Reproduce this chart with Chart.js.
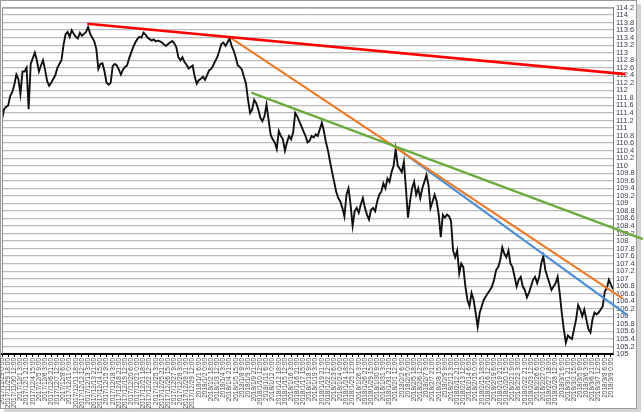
<!DOCTYPE html>
<html>
<head>
<meta charset="utf-8">
<script src="https://cdn.jsdelivr.net/npm/chart.js@4"></script>
<style>
  body { margin: 0; background: #fff; }
  #wrap { width: 644px; height: 413px; position: relative; }
</style>
</head>
<body>
<div id="wrap"><canvas id="chart"></canvas></div>
<script>
// USD/JPY, 6-hour samples (2017/11/29 - 2018/3/9 6:00)
const price = [
  111.23, 111.5, 111.56, 111.6, 111.85, 111.95, 112.15, 112.42, 112.3, 111.9,
  112.5, 112.5, 112.6, 111.5, 112.7, 112.85, 113.0, 112.8, 112.5, 112.66,
  112.8, 112.55, 112.25, 112.12, 112.2, 112.3, 112.4, 112.6, 112.7, 112.8,
  113.2, 113.49, 113.55, 113.42, 113.6, 113.5, 113.42, 113.38, 113.53, 113.45,
  113.5, 113.55, 113.68, 113.5, 113.4, 113.3, 113.1, 112.57, 112.7, 112.72,
  112.5, 112.2, 112.15, 112.2, 112.65, 112.7, 112.66, 112.55, 112.42, 112.55,
  112.62, 112.66, 112.85, 113.0, 113.15, 113.27, 113.36, 113.42, 113.4, 113.53,
  113.48, 113.4, 113.36, 113.32, 113.35, 113.3, 113.32, 113.3, 113.27, 113.22,
  113.18, 113.23, 113.27, 113.31, 113.25, 113.15, 112.88, 112.8, 112.88, 112.75,
  112.68, 112.58, 112.62, 112.66, 112.36, 112.18, 112.27, 112.31, 112.36, 112.28,
  112.4, 112.53, 112.57, 112.66, 112.78, 112.88, 113.05, 113.23, 113.27, 113.18,
  113.27, 113.38, 113.18, 113.05, 112.88, 112.66, 112.62, 112.55, 112.36, 112.18,
  111.75, 111.4, 111.49, 111.75, 111.66, 111.49, 111.27, 111.18, 111.31, 111.62,
  111.23, 110.83, 110.7, 110.62, 110.44, 110.92, 110.79, 110.7, 110.4, 110.62,
  110.79, 110.7, 110.88, 111.4, 111.31, 111.18, 111.05, 110.92, 110.79, 110.62,
  110.66, 110.79, 110.75, 110.83, 110.79, 110.97, 111.14, 110.92, 110.62, 110.4,
  110.1, 109.83, 109.57, 109.31, 109.14, 109.05, 108.88, 108.65, 109.23, 109.4,
  108.97, 108.4, 108.79, 108.88, 108.75, 108.97, 109.14, 108.88, 108.7, 108.57,
  108.83, 108.88, 108.79, 109.05, 109.23, 109.31, 109.53, 109.4, 109.66, 109.57,
  109.83, 110.0, 110.44, 110.0, 109.92, 109.83, 110.1, 109.4, 108.62, 109.05,
  109.4, 109.57, 109.23, 109.4, 109.14, 109.4, 109.57, 109.75, 109.49, 108.88,
  109.05, 109.23, 109.05, 108.7, 108.1, 108.7, 108.62, 108.7, 108.66, 108.53,
  107.75, 107.57, 107.75, 107.14, 107.4, 107.31, 106.79, 106.44, 106.27, 106.62,
  106.44, 106.1, 105.72, 106.1, 106.27, 106.44, 106.53, 106.62, 106.7, 106.79,
  106.97, 107.23, 107.31, 107.49, 107.83, 107.66, 107.57, 107.75, 107.4, 107.31,
  107.05, 106.79, 106.97, 107.05, 106.79, 106.7, 106.5, 106.62, 106.79, 106.97,
  107.05, 106.88, 107.05, 107.4, 107.6, 107.23, 107.05, 106.88, 106.7, 106.79,
  106.88, 107.05, 106.62, 106.1, 105.66, 105.3, 105.49, 105.44, 105.4, 105.66,
  105.92, 106.3, 106.18, 106.0, 106.18, 105.92, 105.66, 105.57, 105.92, 106.1,
  106.05, 106.1, 106.18, 106.27, 106.66, 106.75, 106.97, 106.84, 106.72
];

// trend lines: [start sample, start price, end sample, end price]
const redLine    = [41.6, 113.77, 304, 112.43];
const orangeLine = [111.4, 113.4, 302.8, 106.47];
const blueLine   = [192.8, 110.46, 305, 106.03];
const greenLine  = [121.6, 111.94, 312.6, 108.05];

const yMin = 105, yMax = 114.2, yStep = 0.2;
const labelEvery = 3; // one category label per 18 hours

// weekday calendar for the time labels
const days = [];
for (let d = new Date(2017, 10, 29); d <= new Date(2018, 2, 9); d.setDate(d.getDate() + 1)) {
  if (d.getDay() !== 0 && d.getDay() !== 6) days.push(new Date(d));
}
const totalHours = (days.length - 1) * 24 + 6;
const tickLabels = price.map((_, i) => {
  const h = Math.round(i * totalHours / (price.length - 1) / 3) * 3;
  const day = days[Math.min(days.length - 1, Math.floor(h / 24))];
  return day.getFullYear() + '/' + (day.getMonth() + 1) + '/' + day.getDate() + ' ' + (h % 24) + ':00';
});
const tickIdx = tickLabels.map((_, i) => i).filter(i => i % labelEvery === 0);

function seg(l) { return [{ x: l[0], y: l[1] }, { x: l[2], y: l[3] }]; }

const frame = {
  id: 'frame',
  beforeDraw(chart) {
    const ctx = chart.ctx;
    ctx.save();
    ctx.fillStyle = '#fff';
    ctx.fillRect(0, 0, chart.width, chart.height);
    ctx.fillStyle = '#d4d4d4';
    ctx.fillRect(637, 4, 4, 407);
    ctx.fillRect(4, 409, 637, 3);
    ctx.strokeStyle = '#9a9a9a';
    ctx.lineWidth = 1;
    ctx.strokeRect(0.5, 0.5, 636, 408);
    ctx.restore();
  },
  afterDatasetsDraw(chart) {
    const a = chart.chartArea, ctx = chart.ctx;
    ctx.save();
    ctx.strokeStyle = '#8c8c8c';
    ctx.lineWidth = 1;
    ctx.beginPath();
    ctx.moveTo(a.left + 0.5, a.bottom);
    ctx.lineTo(a.left + 0.5, a.top + 0.5);
    ctx.lineTo(a.right, a.top + 0.5);
    ctx.stroke();
    ctx.restore();
  }
};

Chart.defaults.font.family = '"Liberation Sans", Arial, sans-serif';

new Chart(document.getElementById('chart'), {
  type: 'line',
  data: {
    datasets: [
      { data: seg(redLine), borderColor: '#ff0000', borderWidth: 2.6, clip: false },
      { data: seg(greenLine), borderColor: '#6aab3c', borderWidth: 2.2, clip: false },
      { data: seg(orangeLine), borderColor: '#f07a26', borderWidth: 2.2, clip: false },
      { data: seg(blueLine), borderColor: '#4a90d9', borderWidth: 2.2, clip: false },
      { data: price.map((y, i) => ({ x: i, y })), borderColor: '#111', borderWidth: 1.9 }
    ]
  },
  options: {
    responsive: true,
    maintainAspectRatio: false,
    animation: false,
    layout: { padding: { left: 2, top: 3, right: 0, bottom: 0 } },
    elements: { point: { radius: 0 }, line: { tension: 0 } },
    plugins: { legend: { display: false }, tooltip: { enabled: false } },
    scales: {
      x: {
        type: 'linear',
        min: 0,
        max: price.length - 1,
        afterBuildTicks: s => { s.ticks = tickIdx.map(v => ({ value: v })); },
        afterFit: s => { s.height = 59; },
        grid: { drawOnChartArea: false, drawTicks: true, tickLength: 3, color: '#000' },
        border: { color: '#000', width: 2 },
        ticks: {
          autoSkip: false,
          minRotation: 90,
          maxRotation: 90,
          padding: 1,
          color: '#4a4a4a',
          font: { size: 6.5 },
          callback: v => tickLabels[v]
        }
      },
      y: {
        position: 'right',
        min: yMin,
        max: yMax,
        afterBuildTicks: s => {
          const t = [];
          for (let k = 0; k <= Math.round((yMax - yMin) / yStep); k++) t.push({ value: yMin + k * yStep });
          s.ticks = t;
        },
        afterFit: s => { s.width = 31; },
        grid: { color: '#bcbcbc', lineWidth: 1.2, drawTicks: false },
        border: { color: '#7a7a7a', width: 1 },
        ticks: {
          autoSkip: false,
          padding: 3,
          color: '#3b3b4f',
          font: { size: 7.5 },
          callback: v => String(parseFloat(Number(v).toFixed(1)))
        }
      }
    }
  },
  plugins: [frame]
});
</script>
</body>
</html>
